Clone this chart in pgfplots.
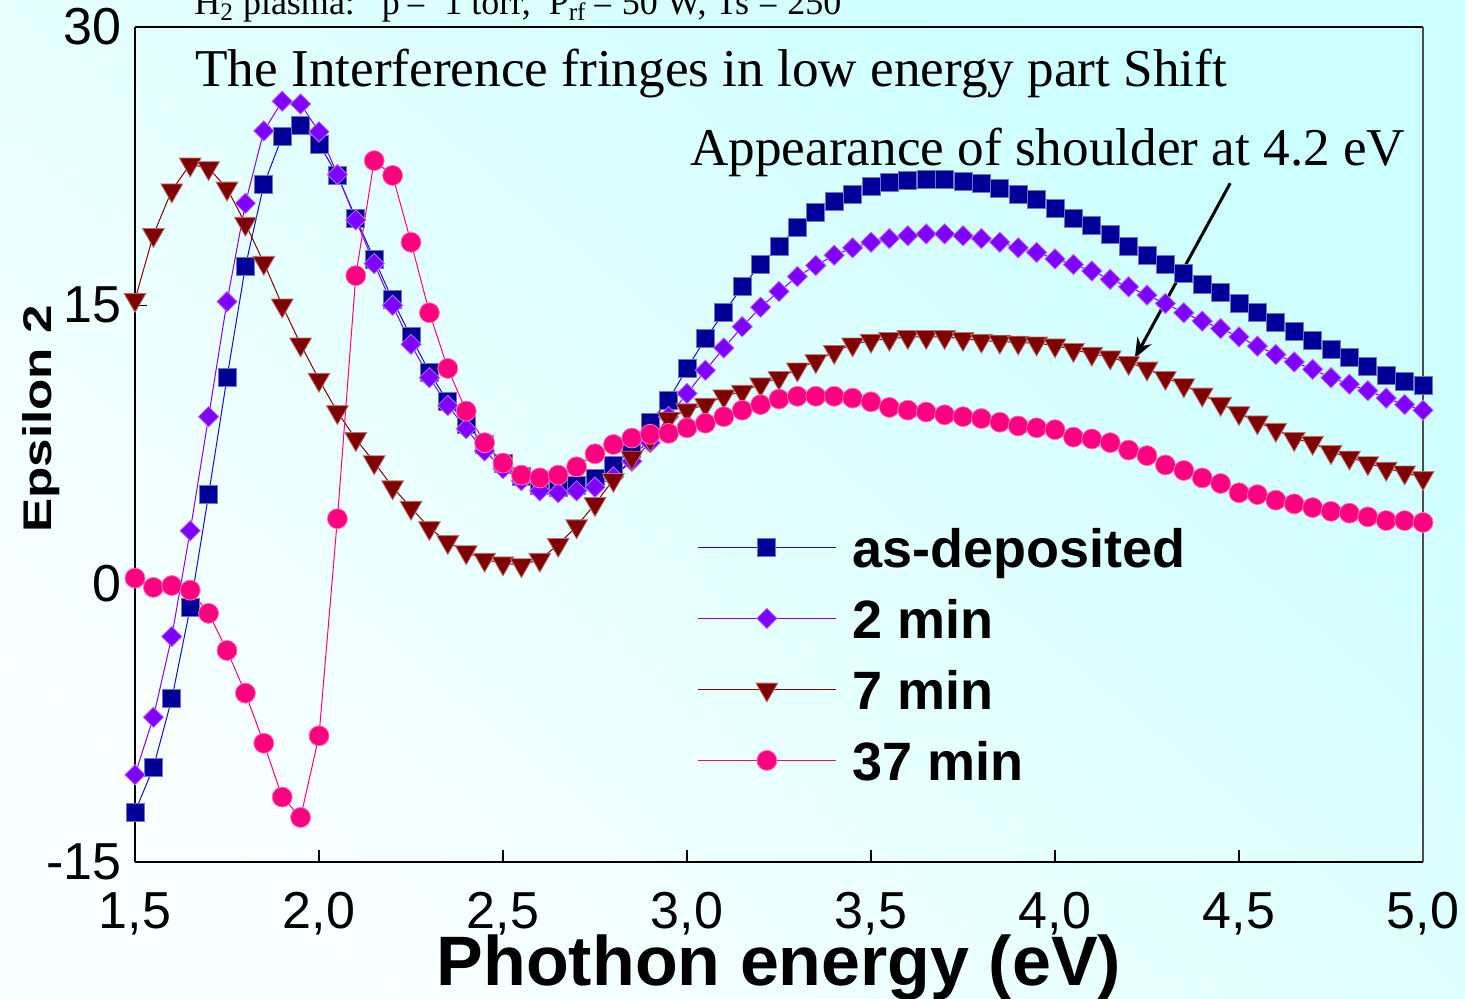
\documentclass[border=0pt]{standalone}
\usepackage{fontspec}
\setmainfont{Liberation Serif}
\setsansfont{Liberation Sans}
\usepackage{graphicx}
\usepackage{pgfplots}
\pgfplotsset{compat=1.18}
\usepackage{pgfplotstable}
\usetikzlibrary{arrows.meta}
\definecolor{cA}{HTML}{000099}
\definecolor{lA}{HTML}{1010CC}
\definecolor{cB}{HTML}{8000FF}
\definecolor{cC}{HTML}{800000}
\definecolor{cD}{HTML}{FF0080}
\definecolor{bgT}{HTML}{CCFFFF}
\definecolor{bgB}{HTML}{FAFFFF}
\pgfplotstableread{
x A B C D
1.50 -12.3 -10.3 15.3 0.3
1.55 -9.9 -7.2 18.8 -0.2
1.60 -6.2 -2.85 21.2 -0.1
1.65 -1.3 2.85 22.6 -0.35
1.70 4.8 9.0 22.4 -1.6
1.75 11.1 15.2 21.3 -3.6
1.80 17.1 20.5 19.4 -5.9
1.85 21.5 24.4 17.3 -8.6
1.90 24.1 26.0 15.0 -11.5
1.95 24.7 25.85 12.9 -12.6
2.00 23.7 24.35 11.0 -8.2
2.05 22.0 22.05 9.25 3.5
2.10 19.7 19.6 7.8 16.6
2.15 17.5 17.25 6.55 22.8
2.20 15.3 15.0 5.2 22.0
2.25 13.3 12.9 4.1 18.4
2.30 11.4 11.1 3.0 14.6
2.35 9.8 9.6 2.25 11.6
2.40 8.6 8.35 1.7 9.3
2.45 7.5 7.15 1.3 7.6
2.50 6.5 6.2 1.1 6.5
2.55 5.8 5.55 1.0 5.85
2.60 5.3 5.0 1.3 5.7
2.65 5.2 4.9 2.1 5.85
2.70 5.3 5.0 3.1 6.3
2.75 5.7 5.2 4.3 7.0
2.80 6.4 5.75 5.6 7.5
2.85 7.3 6.6 6.8 7.85
2.90 8.7 7.6 7.8 8.05
2.95 9.9 9.0 8.9 8.1
3.00 11.6 10.25 9.35 8.4
3.05 13.2 11.5 9.65 8.65
3.10 14.6 12.7 10.1 9.0
3.15 16.0 13.85 10.35 9.35
3.20 17.2 14.9 10.75 9.65
3.25 18.2 15.75 11.1 9.95
3.30 19.2 16.55 11.55 10.1
3.35 20.0 17.15 12.0 10.1
3.40 20.6 17.7 12.5 10.1
3.45 21.0 18.1 12.9 10.0
3.50 21.4 18.4 13.1 9.8
3.55 21.6 18.6 13.2 9.5
3.60 21.75 18.75 13.3 9.35
3.65 21.8 18.85 13.3 9.25
3.70 21.8 18.85 13.3 9.1
3.75 21.7 18.75 13.2 9.0
3.80 21.55 18.6 13.1 8.9
3.85 21.3 18.4 13.05 8.7
3.90 21.0 18.1 13.0 8.5
3.95 20.7 17.85 12.95 8.4
4.00 20.2 17.5 12.85 8.3
4.05 19.7 17.2 12.6 7.9
4.10 19.3 16.85 12.4 7.8
4.15 18.8 16.4 12.2 7.6
4.20 18.2 16.0 11.9 7.2
4.25 17.7 15.55 11.6 6.9
4.30 17.2 15.1 11.1 6.4
4.35 16.7 14.6 10.7 6.1
4.40 16.15 14.15 10.2 5.7
4.45 15.7 13.75 9.7 5.4
4.50 15.1 13.3 9.2 4.9
4.55 14.6 12.8 8.7 4.8
4.60 14.1 12.35 8.3 4.5
4.65 13.6 11.95 7.8 4.3
4.70 13.1 11.55 7.6 4.1
4.75 12.6 11.1 7.1 3.9
4.80 12.2 10.75 6.8 3.8
4.85 11.7 10.4 6.5 3.6
4.90 11.2 10.0 6.2 3.4
4.95 10.9 9.65 6.0 3.4
5.00 10.7 9.35 5.7 3.3
}\data
\begin{document}
\begin{tikzpicture}[x=1pt,y=1pt]
\shade[shading=axis, top color=bgT, bottom color=bgB, shading angle=-40] (0,0) rectangle (732.5,499);
\begin{axis}[
  at={(67.5pt,68pt)}, anchor=south west,
  scale only axis, width=644pt, height=417.5pt,
  xmin=1.5, xmax=5.0, ymin=-15, ymax=30,
  axis lines=left, axis line style={-, line width=1pt, black},
  tick align=inside, major tick length=6pt, tick style={line width=0.8pt, black},
  xtick={1.5,2.0,2.5,3.0,3.5,4.0,4.5,5.0},
  xticklabels={{1,5},{2,0},{2,5},{3,0},{3,5},{4,0},{4,5},{5,0}},
  ytick={-15,0,15,30}, yticklabels={-15,0,15,30},
  ticklabel style={font=\sffamily\fontsize{26}{30}\selectfont, inner sep=0pt},
  xticklabel style={anchor=base, yshift=-33pt},
  yticklabel style={anchor=east, xshift=-6.5pt},
  xlabel={Phothon energy (eV)}, ylabel={\scalebox{1.28}[1]{Epsilon 2}},
  xlabel style={font=\sffamily\bfseries\fontsize{35}{40}\selectfont, at={(axis description cs:0.5,-0.1473)}, anchor=base, inner sep=0pt},
  ylabel style={font=\sffamily\bfseries\fontsize{20}{24}\selectfont, at={(axis description cs:-0.0652,0.5305)}, anchor=base, inner sep=0pt},
  clip=false,
  legend style={draw=none, fill=none, at={(axis description cs:0.4363,0.4012)}, anchor=north west, inner sep=0pt,
    font=\sffamily\bfseries\fontsize{27}{30}\selectfont, row sep=15.5pt,
    nodes={inner sep=0pt, text height=20pt, text depth=0pt},
    /tikz/every odd column/.append style={column sep=8pt}},
  legend cell align=left,
  legend image code/.code={\draw[mark repeat=2,mark phase=2,#1] plot coordinates {(0pt,0pt) (34.5pt,0pt) (69pt,0pt)};},
]
\addplot[color=lA, line width=0.5pt, mark=square*, mark size=4.5pt, mark options={fill=cA, draw=cA!55!white, line width=0.4pt}] table[x=x,y=A]{\data};
\addlegendentry{as-deposited}
\addplot[color=cB, line width=0.5pt, mark=square*, mark size=3.6pt, mark options={rotate=45, fill=cB, draw=cB!55!white, line width=0.4pt}] table[x=x,y=B]{\data};
\addlegendentry{2 min}
\addplot[color=cC, line width=0.5pt, mark=triangle*, mark size=6.3pt, mark options={rotate=180, fill=cC, draw=cC!55!white, line width=0.4pt}] table[x=x,y=C]{\data};
\addlegendentry{7 min}
\addplot[color=cD, line width=0.5pt, mark=*, mark size=5pt, mark options={fill=cD, draw=cD!55!white, line width=0.4pt}] table[x=x,y=D]{\data};
\addlegendentry{37 min}
\draw[black, line width=0.8pt] (rel axis cs:0,1) -- (rel axis cs:1,1);
\draw[black!70, line width=0.8pt] (rel axis cs:1,1) -- (rel axis cs:1,0);
\node[anchor=base west, inner sep=0pt, font=\fontsize{26.6}{30}\selectfont] at (axis cs:1.663,26.81) {The Interference fringes in low energy part Shift};
\node[anchor=base west, inner sep=0pt, font=\fontsize{26.6}{30}\selectfont] at (axis cs:3.008,22.55) {Appearance of shoulder at 4.2 eV};
\draw[black, line width=1.5pt, -{Stealth[length=10pt, width=8pt]}] (axis cs:4.476,21.58) -- (axis cs:4.217,12.16);
\end{axis}
\node[anchor=base west, inner sep=0pt, font=\fontsize{18}{20}\selectfont] at (97,491.5) {H\textsubscript{2} plasma:\enspace\ p\,=\enspace 1 torr,\enspace P\textsubscript{rf}\,= 50 W, Ts = 250};
\pgfresetboundingbox
\useasboundingbox (0,0) rectangle (732.5,499);
\end{tikzpicture}
\end{document}
